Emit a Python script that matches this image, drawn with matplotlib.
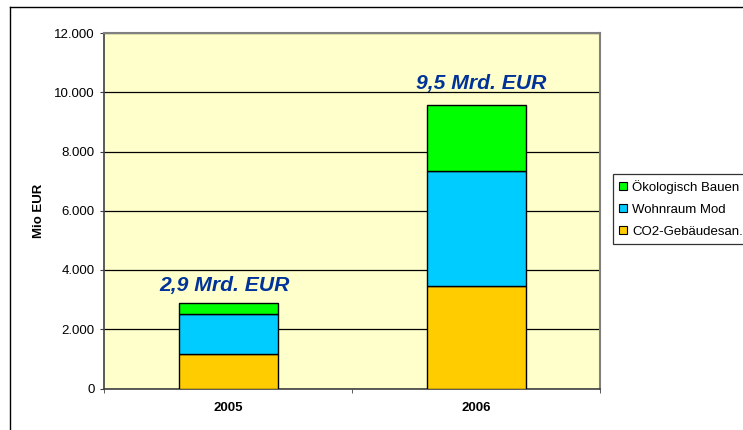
import numpy as np
import matplotlib
matplotlib.use("Agg")
import matplotlib.pyplot as plt
from matplotlib.patches import Patch
from matplotlib.lines import Line2D

plt.rcParams['font.family'] = ['Liberation Sans', 'DejaVu Sans']

# data (Mio EUR)
years = ['2005', '2006']
co2 = [1165, 3450]
wohnraum = [1360, 3880]
oeko = [375, 2240]
totals_txt = ['2,9 Mrd. EUR', '9,5 Mrd. EUR']
yticks = [0, 2000, 4000, 6000, 8000, 10000, 12000]
ytick_labels = ['0', '2.000', '4.000', '6.000', '8.000', '10.000', '12.000']

c_co2 = '#FFCC00'
c_wohn = '#00CCFF'
c_oeko = '#00FF00'

fig = plt.figure(figsize=(7.43, 4.3), dpi=100)
ax = fig.add_axes([104.3/743, 1-388.5/430, 496/743, 355.5/430])
ax.set_facecolor('#FFFFCC')

x = np.arange(len(years))
w = 0.4
ax.bar(x, co2, w, color=c_co2, edgecolor='black', linewidth=1, zorder=3)
ax.bar(x, wohnraum, w, bottom=co2, color=c_wohn, edgecolor='black', linewidth=1, zorder=3)
bot3 = np.array(co2) + np.array(wohnraum)
ax.bar(x, oeko, w, bottom=bot3, color=c_oeko, edgecolor='black', linewidth=1, zorder=3)

tops = bot3 + np.array(oeko)
offs = [400, 530]
dx = [-0.015, 0.02]
for i in range(len(years)):
    ax.text(x[i] + dx[i], tops[i] + offs[i], totals_txt[i], ha='center', va='baseline',
            fontsize=15.2, fontweight='bold', fontstyle='italic', color='#003399')

ax.set_xlim(-0.5, 1.5)
ax.set_ylim(0, 12000)
ax.set_yticks(yticks)
ax.set_yticklabels(ytick_labels, fontsize=9.5)
ax.set_xticks(x)
ax.set_xticklabels(years, fontsize=9.5, fontweight='bold')
ax.tick_params(axis='x', length=0, pad=10)
ax.set_xticks([-0.5, 0.5, 1.5], minor=True)
ax.tick_params(axis='x', which='minor', length=3, color='#404040')
ax.tick_params(axis='y', length=3, color='#404040', pad=4)
ax.grid(axis='y', color='black', linewidth=0.9, zorder=0)
ax.set_axisbelow(True)
ax.set_ylabel('Mio EUR', fontsize=9.5, fontweight='bold', labelpad=6.5)

for s in ['top', 'right']:
    ax.spines[s].set_color('#808080')
    ax.spines[s].set_linewidth(1.5)
for s in ['left', 'bottom']:
    ax.spines[s].set_color('#404040')
    ax.spines[s].set_linewidth(1.2)

handles = [Patch(facecolor=c_oeko, edgecolor='black', linewidth=0.8),
           Patch(facecolor=c_wohn, edgecolor='black', linewidth=0.8),
           Patch(facecolor=c_co2, edgecolor='black', linewidth=0.8)]
labels = ['Ökologisch Bauen', 'Wohnraum Mod', 'CO2-Gebäudesan.']
leg = fig.legend(handles, labels, loc='upper left', bbox_to_anchor=(613.3/743, 1-174/430),
                 fontsize=9.5, frameon=True, fancybox=False, edgecolor='black',
                 handlelength=0.6, handleheight=0.6, handletextpad=0.4,
                 labelspacing=0.75, borderpad=0.45, borderaxespad=0)
leg.get_frame().set_linewidth(0.9)

# outer chart frame
fig.add_artist(Line2D([10/743, 10/743], [0, 1-7/430], transform=fig.transFigure, color='black', linewidth=1))
fig.add_artist(Line2D([10/743, 1], [1-7/430, 1-7/430], transform=fig.transFigure, color='black', linewidth=1))

fig.savefig('out.png', dpi=100)
